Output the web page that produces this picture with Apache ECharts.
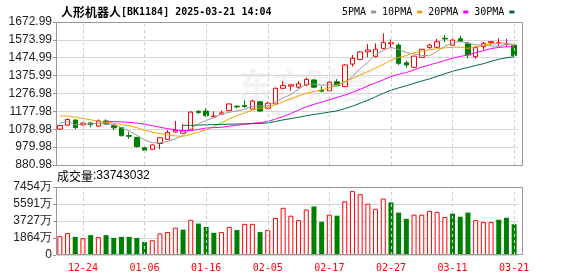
<!DOCTYPE html>
<html><head><meta charset="utf-8">
<script src="https://cdn.jsdelivr.net/npm/echarts@6/dist/echarts.min.js"></script>
<style>html,body{margin:0;padding:0;background:#fff}#c{width:578px;height:276px}</style>
</head><body><div id="c"></div>
<script>
const dates = ['12-19','12-20','12-23','12-24','12-25','12-26','12-27','12-30','12-31','01-02','01-03','01-06','01-07','01-08','01-09','01-10','01-13','01-14','01-15','01-16','01-17','01-20','01-21','01-22','01-23','01-24','01-27','02-05','02-06','02-07','02-10','02-11','02-12','02-13','02-14','02-17','02-18','02-19','02-20','02-21','02-24','02-25','02-26','02-27','02-28','03-03','03-04','03-05','03-06','03-07','03-10','03-11','03-12','03-13','03-14','03-17','03-18','03-19','03-20','03-21'];
// [open, close, low, high]
const ohlc = [
[1080,1100,1076,1104],[1102,1133,1098,1140],[1130,1088,1079,1133],[1103,1113,1100,1117],[1114,1104,1092,1118],
[1096,1125,1093,1133],[1125,1108,1104,1134],[1098,1087,1074,1105],[1088,1043,1040,1090],[1044,1040,1026,1065],
[1034,983,977,1036],[977,963,950,983],[968,992,966,994],[1000,1032,968,1034],[1023,1062,1020,1075],
[1064,1073,1062,1125],[1057,1069,1055,1106],[1075,1174,1072,1178],[1178,1172,1163,1186],[1180,1154,1149,1195],
[1148,1152,1146,1178],[1162,1170,1160,1183],[1182,1219,1180,1222],[1207,1203,1195,1211],[1210,1205,1198,1239],
[1191,1235,1188,1242],[1231,1180,1175,1236],[1195,1223,1190,1232],[1219,1306,1217,1310],[1306,1321,1302,1345],
[1318,1325,1292,1327],[1312,1331,1305,1346],[1324,1355,1318,1365],[1352,1312,1308,1356],[1295,1290,1284,1316],
[1292,1340,1288,1345],[1342,1320,1317,1357],[1315,1435,1312,1440],[1440,1472,1425,1490],[1466,1507,1462,1512],
[1508,1518,1477,1551],[1481,1522,1477,1555],[1527,1560,1522,1610],[1553,1558,1528,1577],[1545,1444,1435,1555],
[1447,1435,1420,1460],[1422,1484,1418,1486],[1477,1522,1475,1524],[1531,1545,1525,1553],[1533,1564,1528,1579],
[1583,1579,1562,1601],[1545,1573,1540,1588],[1580,1567,1560,1597],[1555,1490,1472,1564],[1481,1531,1470,1540],
[1536,1555,1518,1562],[1558,1564,1546,1564],[1556,1558,1540,1582],[1550,1553,1536,1580],[1545,1487,1480,1553]
];
// volume in 万
const volumes = [2066,2400,1987,1841,2178,1953,2178,1875,1987,1987,1875,1426,1616,2366,2515,3000,2777,3862,3447,3076,
2436,2515,3076,2739,3413,3413,2515,2739,4053,5175,4311,3828,4984,5321,3637,4423,4311,5882,7005,6668,
5624,5063,6185,5770,4648,3974,4423,4423,4838,4726,4165,4535,4199,4648,3828,3603,3603,3862,4086,3374];
const ma5 = [1115,1121,1104,1107,1108,1113,1108,1107,1088,1070,1045,1020,1004,1004,1012,1026,1044,1082,1110,1128,
1144,1164,1173,1180,1190,1206,1208,1209,1230,1253,1271,1302,1328,1329,1323,1326,1323,1339,1371,1415,
1450,1491,1516,1533,1520,1504,1496,1488,1486,1510,1539,1557,1566,1555,1548,1543,1541,1538,1550,1543];
const ma10 = [1152,1152,1146,1139,1131,1124,1117,1111,1106,1098,1088,1073,1063,1055,1048,1042,1040,1050,1064,1076,
1094,1114,1137,1154,1169,1185,1196,1201,1215,1231,1248,1264,1278,1288,1297,1308,1322,1343,1360,1379,
1399,1418,1438,1462,1477,1487,1503,1512,1519,1525,1530,1533,1534,1527,1535,1545,1552,1555,1555,1547];
const ma20 = [null,null,null,null,null,null,1122,1121,1120,1117,1113,1107,1099,1090,1082,1076,1071,1072,1078,1086,
1088,1090,1096,1101,1106,1112,1115,1122,1135,1149,1166,1185,1203,1217,1229,1242,1255,1268,1283,1300,
1319,1336,1353,1371,1383,1393,1408,1423,1435,1447,1460,1472,1482,1491,1503,1514,1526,1532,1536,1535];
const ma30 = [null,null,null,null,null,null,null,null,null,null,null,null,null,null,null,null,1100,1101,1102,1103,
1105,1106,1107,1108,1109,1110,1111,1114,1122,1131,1138,1145,1154,1161,1167,1174,1181,1193,1207,1223,
1240,1259,1278,1295,1308,1320,1334,1346,1358,1372,1386,1400,1411,1421,1432,1442,1455,1466,1475,1480];
const priceTicks = [880.98,979.98,1078.98,1177.98,1276.98,1375.99,1474.99,1573.99,1672.99];
const priceTickLabels = ['880.98','979.98','1078.98','1177.98','1276.98','1375.99','1474.99','1573.99','1672.99'];
const volTicks = [0,1863.5,3727,5590.5,7454];
const volTickLabels = ['0','1864万','3727万','5591万','7454万'];
const dateLabels = ['12-24','01-06','01-16','02-05','02-17','02-27','03-11','03-21'];
const lastVolume = '33743032';

const RED = '#ff0000', GREEN = '#008000';
const MONO = 'DejaVu Sans Mono';
function nearestLabel(v, ticks, labels){
  let b = 0; for (let i=1;i<ticks.length;i++) if (Math.abs(ticks[i]-v) < Math.abs(ticks[b]-v)) b = i;
  return labels[b];
}
const volData = volumes.map((v,i)=>{
  const c = ohlc[i][1], ref = i===0 ? ohlc[i][0] : ohlc[i-1][1];
  const up = c >= ref;
  return {value: v, itemStyle: up ? {color:'#fff', borderColor:RED, borderWidth:1} : {color:GREEN, borderColor:GREEN, borderWidth:0}};
});
const vLines = dateLabels.map(d=>({xAxis:d}));
const markV = {silent:true, symbol:['none','none'], label:{show:false}, animation:false,
  lineStyle:{color:'#cfcfcf', type:[3,3], width:1}, emphasis:{disabled:true}, data:vLines};

const chart = echarts.init(document.getElementById('c'), null, {renderer:'canvas'});
const L = 56, W = 462;
chart.setOption({
  animation:false,
  backgroundColor:'#fff',
  title:{left:56, top:1, text:'{a|人形机器人}{b|[BK1184] 2025-03-21 14:04}',
    textStyle:{rich:{a:{fontFamily:'Noto Sans CJK SC', fontSize:12, color:'#000'}, b:{fontFamily:MONO, fontSize:10, color:'#000'}}}},
  legend:{left:337, top:2, align:'right', icon:'rect', itemWidth:5, itemHeight:3, itemGap:6,
    textStyle:{fontFamily:MONO, fontSize:10, color:'#000'},
    data:['5PMA','10PMA','20PMA','30PMA']},
  grid:[{left:L, width:W, top:22, height:143}, {left:L, width:W, top:187, height:68}],
  xAxis:[
    {type:'category', gridIndex:0, data:dates, boundaryGap:true, axisLine:{show:false}, axisTick:{show:false}, axisLabel:{show:false}, splitLine:{show:false}},
    {type:'category', gridIndex:1, data:dates, boundaryGap:true, axisLine:{show:false}, axisTick:{show:false},
      axisLabel:{show:true, interval:(i,v)=>dateLabels.indexOf(v)>=0, color:RED, fontFamily:MONO, fontSize:10, margin:8}, splitLine:{show:false}}
  ],
  yAxis:[
    {type:'value', gridIndex:0, min:880.98, max:1672.99, axisLine:{show:false},
      axisTick:{show:true, length:3, customValues:priceTicks, lineStyle:{color:'#999'}},
      axisLabel:{customValues:priceTicks, formatter:v=>nearestLabel(v,priceTicks,priceTickLabels), color:'#222', fontFamily:'Liberation Sans', fontSize:12, margin:4},
      splitLine:{show:true, lineStyle:{color:'#d6d6d6', width:1}}},
    {type:'value', gridIndex:1, min:0, max:7454, axisLine:{show:false},
      axisTick:{show:true, length:3, customValues:volTicks, lineStyle:{color:'#999'}},
      axisLabel:{customValues:volTicks, formatter:v=>nearestLabel(v,volTicks,volTickLabels), color:'#222', fontFamily:'Liberation Sans', fontSize:12, margin:4},
      splitLine:{show:true, lineStyle:{color:'#d6d6d6', width:1}}}
  ],
  graphic:[
    {type:'text', left:238, top:68, z:-10, silent:true, style:{text:'东方财富', fill:'#f3f3f3', font:'bold 34px "Noto Sans CJK SC"'}},
    {type:'rect', z:100, silent:true, shape:{x:56.5, y:22.5, width:466, height:143}, style:{fill:'none', stroke:'#999', lineWidth:1}},
    {type:'rect', z:100, silent:true, shape:{x:56.5, y:187.5, width:466, height:67}, style:{fill:'none', stroke:'#999', lineWidth:1}},
    {type:'text', left:57, top:170, silent:true, style:{rich:{a:{fontFamily:'Noto Sans CJK SC', fontSize:12, fill:'#000'}, b:{fontFamily:'Liberation Sans', fontSize:12, fill:'#000'}}, text:'{a|成交量}{b|:'+lastVolume+'}'}}
  ],
  series:[
    {type:'candlestick', name:'K', xAxisIndex:0, yAxisIndex:0, data:ohlc, barWidth:5,
      itemStyle:{color:'#fff', color0:GREEN, borderColor:RED, borderColor0:GREEN, borderWidth:1}, markLine:markV, z:2},
    {type:'line', name:'5PMA', data:ma5, xAxisIndex:0, yAxisIndex:0, showSymbol:false, symbol:'none', lineStyle:{width:1, color:'#9a9a9a'}, itemStyle:{color:'#9a9a9a'}, z:3},
    {type:'line', name:'10PMA', data:ma10, xAxisIndex:0, yAxisIndex:0, showSymbol:false, symbol:'none', lineStyle:{width:1, color:'#f4a300'}, itemStyle:{color:'#f4a300'}, z:3},
    {type:'line', name:'20PMA', data:ma20, xAxisIndex:0, yAxisIndex:0, showSymbol:false, symbol:'none', lineStyle:{width:1, color:'#ff00ff'}, itemStyle:{color:'#ff00ff'}, z:3},
    {type:'line', name:'30PMA', data:ma30, xAxisIndex:0, yAxisIndex:0, showSymbol:false, symbol:'none', lineStyle:{width:1, color:'#006f3c'}, itemStyle:{color:'#006f3c'}, z:3},
    {type:'bar', name:'VOL', xAxisIndex:1, yAxisIndex:1, data:volData, barWidth:5, markLine:markV, z:2}
  ]
});
</script></body></html>
